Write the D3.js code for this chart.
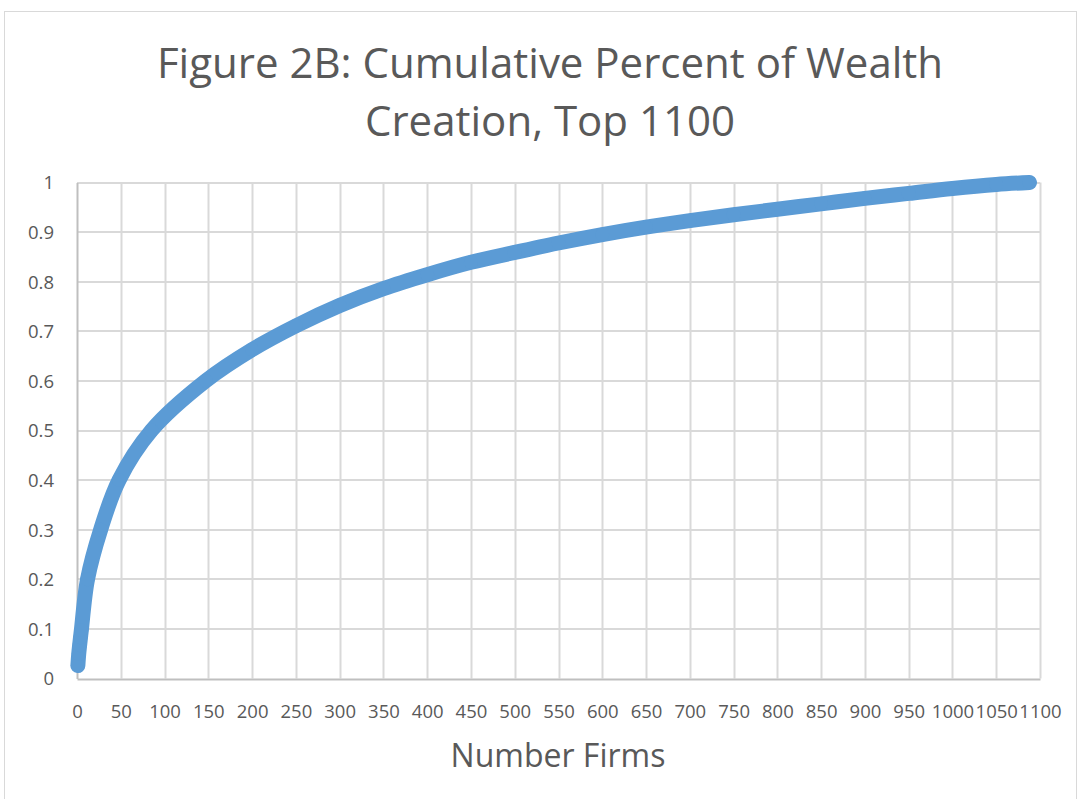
<!DOCTYPE html>
<html>
<head>
<meta charset="utf-8">
<script src="https://cdn.jsdelivr.net/npm/d3@7"></script>
<style>
  body { margin: 0; background: #fff; }
  text { font-family: "Open Sans", "Noto Sans", sans-serif; fill: #595959; }
</style>
</head>
<body>
<svg id="chart"></svg>
<script>
// chart size
var width = 1080,
    height = 799;

// cumulative share of wealth creation vs number of firms
var firms = [1, 2, 3, 4, 5, 12, 27, 48, 85, 147, 200, 250, 300, 350, 400,
             450, 500, 550, 600, 650, 700, 750, 800, 850, 900, 950, 1000, 1050, 1088];
var cumShare = [0.026, 0.05, 0.067, 0.083, 0.098, 0.2, 0.3, 0.4, 0.5, 0.6, 0.663, 0.711, 0.752, 0.786, 0.814,
                0.839, 0.859, 0.878, 0.895, 0.91, 0.923, 0.935, 0.946, 0.957, 0.968, 0.978, 0.988, 0.996, 1.0];

var xTicks = [0, 50, 100, 150, 200, 250, 300, 350, 400, 450, 500, 550, 600, 650, 700, 750, 800, 850, 900, 950, 1000, 1050, 1100];
var yTicks = [0, 0.1, 0.2, 0.3, 0.4, 0.5, 0.6, 0.7, 0.8, 0.9, 1];

var titleLines = ["Figure 2B: Cumulative Percent of Wealth", "Creation, Top 1100"];

var svg = d3.select("#chart")
    .attr("width", width)
    .attr("height", height);

// outer chart border
svg.append("rect")
    .attr("x", 4.5).attr("y", 11.5)
    .attr("width", 1072).attr("height", 800)
    .attr("fill", "#fff")
    .attr("stroke", "#D9D9D9");

var x = d3.scaleLinear().domain([0, 1100]).range([77, 1040]);
var y = d3.scaleLinear().domain([0, 1]).range([678.5, 182.5]);

// gridlines
svg.append("g")
  .selectAll("line")
    .data(xTicks.slice(1))
  .enter().append("line")
    .attr("x1", function(d) { return Math.round(x(d)) + 0.5; })
    .attr("x2", function(d) { return Math.round(x(d)) + 0.5; })
    .attr("y1", y(0)).attr("y2", y(1))
    .attr("stroke", "#D9D9D9").attr("stroke-width", 2);

svg.append("g")
  .selectAll("line")
    .data(yTicks.slice(1))
  .enter().append("line")
    .attr("x1", x(0)).attr("x2", x(1100))
    .attr("y1", function(d) { return Math.round(y(d)); })
    .attr("y2", function(d) { return Math.round(y(d)); })
    .attr("stroke", "#D9D9D9").attr("stroke-width", 2);

// axes
var xAxis = d3.axisBottom(x).tickValues(xTicks).tickSize(0).tickPadding(26)
    .tickFormat(d3.format("d"));
var yAxis = d3.axisLeft(y).tickValues(yTicks).tickSize(0).tickPadding(23)
    .tickFormat(function(d) { return d === 0 ? "0" : d === 1 ? "1" : d3.format(".1f")(d); });

var gx = svg.append("g")
    .attr("transform", "translate(0," + Math.round(y(0)) + ")")
    .call(xAxis);
var gy = svg.append("g")
    .attr("transform", "translate(" + x(0) + ",0)")
    .call(yAxis);

[gx, gy].forEach(function(g) {
  g.select(".domain").attr("stroke", "#BFBFBF").attr("stroke-width", 2);
  g.selectAll("text")
    .attr("fill", "#595959")
    .style("font-family", "\"Open Sans\", sans-serif")
    .style("font-size", "18.5px");
});
gy.selectAll("text").attr("dy", "0.35em");

// the curve: thick band plus markers
var line = d3.line()
    .x(function(d, i) { return x(firms[i]); })
    .y(function(d) { return y(d); })
    .curve(d3.curveCatmullRom.alpha(0.5));

svg.append("path")
    .datum(cumShare)
    .attr("d", line)
    .attr("fill", "none")
    .attr("stroke", "#5B9BD5")
    .attr("stroke-width", 15)
    .attr("stroke-linecap", "round")
    .attr("stroke-linejoin", "round");

svg.append("g")
  .selectAll("circle")
    .data(cumShare)
  .enter().append("circle")
    .attr("cx", function(d, i) { return x(firms[i]); })
    .attr("cy", function(d) { return y(d); })
    .attr("r", 7)
    .attr("fill", "#5B9BD5");

// title
svg.append("g")
  .selectAll("text")
    .data(titleLines)
  .enter().append("text")
    .attr("x", 550)
    .attr("y", function(d, i) { return 78 + i * 58; })
    .attr("text-anchor", "middle")
    .style("font-size", "42px")
    .text(function(d) { return d; });

// x axis title
svg.append("text")
    .attr("x", 558)
    .attr("y", 767)
    .attr("text-anchor", "middle")
    .style("font-size", "32px")
    .text("Number Firms");
</script>
</body>
</html>
